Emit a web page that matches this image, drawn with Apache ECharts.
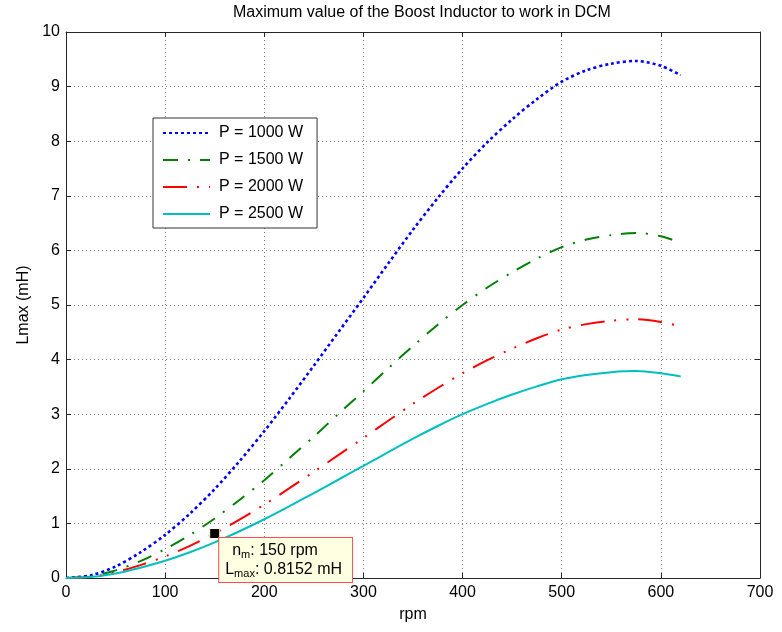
<!DOCTYPE html>
<html>
<head>
<meta charset="utf-8">
<title>Maximum value of the Boost Inductor to work in DCM</title>
<script src="https://cdn.jsdelivr.net/npm/echarts@6/dist/echarts.min.js"></script>
<style>
  html, body { margin: 0; padding: 0; background: #ffffff; }
  #chart { width: 782px; height: 632px; }
</style>
</head>
<body>
<div id="chart"></div>
<script>
// Motor speed samples (rpm)
const rpm = [0, 25, 50, 75, 100, 125, 150, 175, 200, 225, 250, 275, 300,
             325, 350, 375, 400, 425, 450, 475, 500, 525, 550, 575, 600, 620];

// Maximum boost inductance for DCM operation (mH), one list per output power
const l1000 = [0, 0.05, 0.21, 0.47, 0.79, 1.18, 1.63, 2.14, 2.69, 3.28, 3.89, 4.51, 5.13,
               5.76, 6.38, 6.96, 7.50, 7.98, 8.40, 8.77, 9.09, 9.30, 9.42, 9.47, 9.38, 9.21];
const l1500 = [0, 0.03, 0.14, 0.31, 0.53, 0.79, 1.09, 1.43, 1.79, 2.19, 2.59, 3.01, 3.42,
               3.84, 4.25, 4.64, 5.00, 5.32, 5.60, 5.85, 6.06, 6.20, 6.28, 6.32, 6.26, 6.14];
const l2000 = [0, 0.025, 0.105, 0.235, 0.395, 0.59, 0.8152, 1.07, 1.345, 1.64, 1.945, 2.255, 2.565,
               2.88, 3.19, 3.48, 3.75, 3.99, 4.20, 4.39, 4.55, 4.65, 4.71, 4.74, 4.69, 4.61];
const l2500 = [0, 0.02, 0.084, 0.188, 0.316, 0.472, 0.652, 0.856, 1.076, 1.312, 1.556, 1.804, 2.052,
               2.304, 2.552, 2.784, 3.00, 3.19, 3.36, 3.51, 3.64, 3.72, 3.77, 3.79, 3.75, 3.69];

const seriesNames = ['P = 1000 W', 'P = 1500 W', 'P = 2000 W', 'P = 2500 W'];

// Highlighted operating point on the 2000 W curve
const markRpm = 150;
const markL = 0.8152;

const xTicks = [0, 100, 200, 300, 400, 500, 600, 700];
const yTicks = [0, 1, 2, 3, 4, 5, 6, 7, 8, 9, 10];

const FONT = '"Liberation Sans", Arial, Helvetica, sans-serif';
const pairs = (ys) => rpm.map((x, i) => [x, ys[i]]);

const chart = echarts.init(document.getElementById('chart'), null, { renderer: 'canvas' });

const axisCommon = {
  type: 'value',
  axisLine: { show: true, onZero: false, lineStyle: { color: '#262626', width: 1 } },
  axisTick: { show: true, inside: true, length: 5, lineStyle: { color: '#262626' } },
};

chart.setOption({
  animation: false,
  backgroundColor: '#ffffff',
  title: {
    text: 'Maximum value of the Boost Inductor to work in DCM',
    left: 233, top: 5, padding: 0,
    textStyle: { fontFamily: FONT, fontSize: 16, fontWeight: 'normal', color: '#000' }
  },
  grid: { left: 66, right: 22, top: 32, bottom: 54 },
  legend: {
    orient: 'vertical',
    left: 153, top: 118,
    padding: [7, 14, 6, 9],
    itemWidth: 47, itemHeight: 14, itemGap: 11,
    backgroundColor: '#ffffff',
    borderColor: '#333333', borderWidth: 1, borderRadius: 0,
    // only the line sample is shown in each legend entry
    itemStyle: { opacity: 0 },
    textStyle: { fontFamily: FONT, fontSize: 16, color: '#000', padding: [0, 0, 0, 4] },
    data: seriesNames
  },
  xAxis: [
    Object.assign({}, axisCommon, {
      position: 'bottom', min: xTicks[0], max: xTicks[xTicks.length - 1], interval: 100,
      name: 'rpm', nameLocation: 'middle', nameGap: 29,
      nameTextStyle: { fontFamily: FONT, fontSize: 16, color: '#000' },
      axisLabel: { fontFamily: FONT, fontSize: 16, color: '#000', margin: 7 },
      splitLine: { show: true, lineStyle: { color: '#808080', width: 1, type: [1, 3] } }
    }),
    Object.assign({}, axisCommon, {
      position: 'top', min: xTicks[0], max: xTicks[xTicks.length - 1], interval: 100,
      axisLabel: { show: false }, splitLine: { show: false }
    })
  ],
  yAxis: [
    Object.assign({}, axisCommon, {
      position: 'left', min: yTicks[0], max: yTicks[yTicks.length - 1], interval: 1,
      name: 'Lmax (mH)', nameLocation: 'middle', nameGap: 34, nameRotate: 90,
      nameTextStyle: { fontFamily: FONT, fontSize: 16, color: '#000' },
      axisLabel: { fontFamily: FONT, fontSize: 16, color: '#000', margin: 6 },
      splitLine: { show: true, lineStyle: { color: '#808080', width: 1, type: [1, 3] } }
    }),
    Object.assign({}, axisCommon, {
      position: 'right', min: yTicks[0], max: yTicks[yTicks.length - 1], interval: 1,
      axisLabel: { show: false }, splitLine: { show: false }
    })
  ],
  series: [
    {
      name: seriesNames[0], type: 'line', data: pairs(l1000),
      showSymbol: false, symbol: 'none', smooth: 0.3,
      lineStyle: { color: '#0000ff', width: 2.6, type: [3, 3] },
      itemStyle: { color: '#0000ff' }
    },
    {
      name: seriesNames[1], type: 'line', data: pairs(l1500),
      showSymbol: false, symbol: 'none', smooth: 0.3,
      lineStyle: { color: '#008000', width: 2, type: [15, 10, 2, 10] },
      itemStyle: { color: '#008000' }
    },
    {
      name: seriesNames[2], type: 'line', data: pairs(l2000),
      showSymbol: false, symbol: 'none', smooth: 0.3,
      lineStyle: { color: '#ff0000', width: 2, type: [24, 10, 2, 10, 2, 10] },
      itemStyle: { color: '#ff0000' },
      markPoint: {
        symbol: 'rect', symbolSize: 10,
        itemStyle: { color: '#000000', borderColor: '#ffffe1', borderWidth: 1 },
        data: [{
          coord: [markRpm, markL],
          label: {
            show: true,
            position: [10, 10],
            backgroundColor: '#ffffe1',
            borderColor: '#ff4d4d', borderWidth: 1,
            padding: [3, 10, 3, 6],
            fontFamily: FONT, fontSize: 16, color: '#000',
            formatter: '{gap|}{t|n}{s|m}{t|: ' + markRpm + ' rpm}\n{t|L}{s|max}{t|: ' + markL + ' mH}',
            rich: {
              gap: { width: 7, lineHeight: 19 },
              t: { fontFamily: FONT, fontSize: 16, color: '#000', lineHeight: 19 },
              s: { fontFamily: FONT, fontSize: 11, color: '#000', lineHeight: 12, verticalAlign: 'bottom' }
            }
          }
        }]
      }
    },
    {
      name: seriesNames[3], type: 'line', data: pairs(l2500),
      showSymbol: false, symbol: 'none', smooth: 0.3,
      lineStyle: { color: '#00bfbf', width: 2, type: 'solid' },
      itemStyle: { color: '#00bfbf' }
    }
  ]
});
</script>
</body>
</html>
